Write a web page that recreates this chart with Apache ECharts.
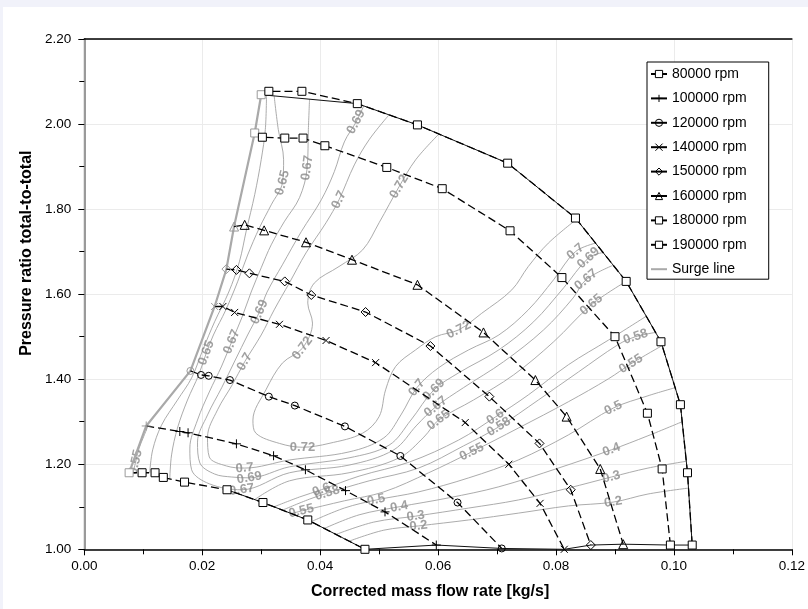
<!DOCTYPE html>
<html><head><meta charset="utf-8">
<script src="https://cdn.jsdelivr.net/npm/echarts@6/dist/echarts.min.js"></script>
<style>
html,body{margin:0;padding:0;background:#f1f2fa;width:808px;height:609px;overflow:hidden}
#c{position:absolute;left:3px;top:7px;width:805px;height:602px;background:#fff}
</style></head><body><div id="c"></div>
<script>
// ---------- tick labels ----------
const xTickLabels = ['0.00','0.02','0.04','0.06','0.08','0.10','0.12'];
const yTickLabels = ['1.00','1.20','1.40','1.60','1.80','2.00','2.20'];

// ---------- speed lines [mass flow, pressure ratio] ----------
const speedNames = ['80000 rpm','100000 rpm','120000 rpm','140000 rpm','150000 rpm','160000 rpm','180000 rpm','190000 rpm'];
const speed80  = [[0.0076,1.180],[0.0098,1.180],[0.0120,1.180],[0.0134,1.169],[0.0170,1.158],[0.0242,1.140],[0.0303,1.110],[0.0379,1.069],[0.0476,1.000]];
const speed100 = [[0.0105,1.290],[0.0162,1.277],[0.0176,1.274],[0.0258,1.248],[0.0321,1.220],[0.0375,1.187],[0.0443,1.138],[0.0510,1.088],[0.0597,1.010]];
const speed120 = [[0.0180,1.4195],[0.0198,1.410],[0.0211,1.408],[0.0247,1.398],[0.0313,1.359],[0.0357,1.338],[0.0442,1.289],[0.0536,1.2195],[0.0633,1.110],[0.0708,1.002]];
const speed140 = [[0.0221,1.571],[0.0235,1.571],[0.0255,1.557],[0.0331,1.529],[0.0410,1.491],[0.0494,1.439],[0.0646,1.298],[0.0720,1.200],[0.0773,1.108],[0.0814,1.000]];
const speed150 = [[0.0241,1.659],[0.0258,1.657],[0.0280,1.649],[0.0340,1.630],[0.0385,1.598],[0.0477,1.558],[0.0587,1.478],[0.0687,1.359],[0.0772,1.249],[0.0825,1.140],[0.0859,1.010]];
const speed160 = [[0.0254,1.759],[0.0272,1.763],[0.0305,1.750],[0.0376,1.722],[0.0454,1.681],[0.0565,1.622],[0.0677,1.510],[0.0765,1.398],[0.0818,1.312],[0.0875,1.189],[0.0914,1.012]];
const speed180 = [[0.0289,1.979],[0.0302,1.969],[0.0340,1.967],[0.0371,1.967],[0.0408,1.949],[0.0513,1.898],[0.0607,1.848],[0.0722,1.749],[0.0810,1.639],[0.0900,1.500],[0.0955,1.320],[0.0980,1.189],[0.0994,1.010]];
const speed190 = [[0.0300,2.069],[0.0313,2.077],[0.0369,2.077],[0.0463,2.048],[0.0565,1.998],[0.0718,1.908],[0.0833,1.779],[0.0919,1.630],[0.0978,1.488],[0.1011,1.340],[0.1023,1.180],[0.1031,1.010]];
const surgeLine = [[0.0076,1.180],[0.0105,1.290],[0.0180,1.4195],[0.0221,1.571],[0.0241,1.659],[0.0254,1.759],[0.0289,1.979],[0.0300,2.069]];
const chokeLine = [[0.0476,1.000],[0.0597,1.010],[0.0708,1.002],[0.0814,1.000],[0.0859,1.010],[0.0914,1.012],[0.0994,1.010],[0.1031,1.010]];

// ---------- efficiency contours ----------
const c072  = [[0.0601,1.976],[0.0562,1.916],[0.0534,1.853],[0.0500,1.768],[0.0472,1.704],[0.0432,1.665],[0.0390,1.626],[0.0379,1.579],[0.0387,1.532],[0.0370,1.473],[0.0336,1.438],[0.0308,1.375],[0.0286,1.304],[0.0291,1.273],[0.0331,1.249],[0.0370,1.240],[0.0415,1.249],[0.0472,1.273],[0.0500,1.312],[0.0511,1.375],[0.0528,1.430],[0.0562,1.469],[0.0596,1.500],[0.0635,1.516],[0.0674,1.555],[0.0725,1.610],[0.0753,1.665],[0.0787,1.720],[0.0834,1.775]];
const c070  = [[0.0517,2.022],[0.0483,1.963],[0.0458,1.904],[0.0432,1.822],[0.0410,1.768],[0.0376,1.697],[0.0348,1.627],[0.0322,1.563],[0.0300,1.504],[0.0272,1.441],[0.0251,1.387],[0.0226,1.328],[0.0209,1.264],[0.0212,1.217],[0.0241,1.196],[0.0272,1.191],[0.0348,1.210],[0.0449,1.229],[0.0508,1.262],[0.0537,1.316],[0.0564,1.380],[0.0601,1.427],[0.0652,1.469],[0.0703,1.504],[0.0753,1.563],[0.0796,1.634],[0.0833,1.700],[0.0867,1.720]];
const c069  = [[0.0474,2.043],[0.0461,2.005],[0.0441,1.958],[0.0424,1.888],[0.0402,1.822],[0.0368,1.747],[0.0336,1.669],[0.0310,1.605],[0.0297,1.558],[0.0277,1.504],[0.0256,1.445],[0.0233,1.380],[0.0209,1.316],[0.0192,1.252],[0.0196,1.203],[0.0221,1.177],[0.0250,1.170],[0.0280,1.168],[0.0348,1.194],[0.0449,1.215],[0.0517,1.245],[0.0554,1.304],[0.0593,1.375],[0.0635,1.415],[0.0703,1.469],[0.0762,1.535],[0.0813,1.615],[0.0855,1.685],[0.0880,1.698]];
const c067  = [[0.0382,2.058],[0.0380,1.987],[0.0378,1.897],[0.0365,1.827],[0.0339,1.770],[0.0317,1.716],[0.0300,1.662],[0.0283,1.605],[0.0267,1.544],[0.0250,1.488],[0.0233,1.431],[0.0212,1.370],[0.0192,1.304],[0.0179,1.238],[0.0182,1.187],[0.0212,1.154],[0.0267,1.140],[0.0348,1.180],[0.0449,1.198],[0.0525,1.234],[0.0564,1.292],[0.0596,1.335],[0.0643,1.380],[0.0711,1.441],[0.0779,1.516],[0.0829,1.591],[0.0851,1.634],[0.0897,1.668]];
const c065a = [[0.0322,2.066],[0.0329,1.987],[0.0338,1.916],[0.0336,1.862],[0.0317,1.810],[0.0297,1.756],[0.0277,1.692],[0.0260,1.629],[0.0240,1.563],[0.0219,1.504],[0.0207,1.462],[0.0194,1.410],[0.0175,1.351],[0.0158,1.285],[0.0148,1.222],[0.0145,1.166]];
const c065b = [[0.0289,1.117],[0.0348,1.161],[0.0449,1.180],[0.0534,1.215],[0.0576,1.264],[0.0601,1.304],[0.0660,1.351],[0.0728,1.410],[0.0796,1.488],[0.0860,1.575],[0.0919,1.630]];
const c060a = [[0.0309,2.067],[0.0307,1.987],[0.0300,1.916],[0.0289,1.834],[0.0275,1.751],[0.0263,1.676],[0.0245,1.605],[0.0221,1.535],[0.0201,1.469],[0.0182,1.403],[0.0158,1.351],[0.0131,1.292],[0.0116,1.234],[0.0111,1.180]];
const c060b = [[0.0322,1.100],[0.0365,1.123],[0.0402,1.140],[0.0466,1.172],[0.0551,1.205],[0.0635,1.257],[0.0697,1.311],[0.0753,1.363],[0.0821,1.434],[0.0889,1.492],[0.0953,1.548]];
const c058  = [[0.0336,1.092],[0.0382,1.118],[0.0412,1.132],[0.0483,1.161],[0.0567,1.191],[0.0643,1.243],[0.0703,1.288],[0.0770,1.351],[0.0838,1.417],[0.0905,1.481],[0.0935,1.500],[0.0969,1.510]];
const c055a = [[0.0083,1.180],[0.0087,1.205],[0.0093,1.238],[0.0101,1.266],[0.0108,1.290]];
const c055b = [[0.0351,1.084],[0.0368,1.090],[0.0441,1.114],[0.0508,1.135],[0.0584,1.180],[0.0657,1.229],[0.0736,1.285],[0.0821,1.347],[0.0889,1.401],[0.0927,1.436],[0.0980,1.479]];
const c050  = [[0.0385,1.065],[0.0441,1.097],[0.0495,1.116],[0.0567,1.135],[0.0652,1.168],[0.0736,1.210],[0.0821,1.269],[0.0897,1.332],[0.0956,1.361],[0.1002,1.380]];
const c040  = [[0.0407,1.049],[0.0466,1.081],[0.0534,1.100],[0.0618,1.121],[0.0703,1.147],[0.0804,1.191],[0.0894,1.234],[0.0956,1.267],[0.1014,1.300]];
const c030  = [[0.0427,1.035],[0.0491,1.064],[0.0562,1.078],[0.0652,1.097],[0.0736,1.116],[0.0821,1.144],[0.0894,1.170],[0.0956,1.191],[0.1021,1.207]];
const c020  = [[0.0449,1.019],[0.0508,1.045],[0.0567,1.055],[0.0652,1.069],[0.0736,1.085],[0.0821,1.102],[0.0897,1.111],[0.0956,1.130],[0.1025,1.144]];

const contourLevels = ['0.72','0.7','0.69','0.67','0.65','0.65','0.6','0.6','0.58','0.55','0.55','0.5','0.4','0.3','0.2'];
const contourLines  = [c072,c070,c069,c067,c065a,c065b,c060a,c060b,c058,c055a,c055b,c050,c040,c030,c020];
// which contour point carries a level label
const contourLabelIdx = [[2,9,15,23],[3,9,15,20,26],[1,8,17,22,27],[2,9,16,21,26],[3,10],[5,9],[],[2,6],[2,6,10],[1],[1,5,9],[2,7],[2,6],[2,6],[2,6]];

// ---------- build chart ----------
const FONT = 'Liberation Sans, Arial, Helvetica, sans-serif';
const chart = echarts.init(document.getElementById('c'));

const PLUS = 'path://M0,5L10,5M5,0L5,10';
const CROSS = 'path://M0,0L10,10M10,0L0,10';
const speedDefs = [
  [speed80, 'rect', 8, '#fff'],
  [speed100, PLUS, 9, 'none'],
  [speed120, 'circle', 7, 'none'],
  [speed140, CROSS, 7, 'none'],
  [speed150, 'diamond', 9, 'none'],
  [speed160, 'triangle', 9, 'none'],
  [speed180, 'rect', 8, '#fff'],
  [speed190, 'rect', 8, '#fff']
];

const series = [];
contourLines.forEach((pts, i) => {
  series.push({
    type: 'line', data: pts, smooth: 0.35, symbol: 'none', silent: true, z: 2,
    lineStyle: { color: '#a2a2a2', width: 0.9 }
  });
});
series.push({
  id: 'effLabels', type: 'scatter', data: [], symbolSize: 1, silent: true, z: 3,
  itemStyle: { color: 'rgba(0,0,0,0)' },
  label: { show: true, position: 'inside', formatter: p => p.name, color: '#8a8a8a',
           fontWeight: 'bold', fontSize: 13, fontFamily: FONT }
});
// boundary thin solid lines
const topBoundary = [speed190[0]].concat(speed190.slice(3));
series.push({ type: 'line', data: topBoundary, symbol: 'none', silent: true, z: 4,
  lineStyle: { color: '#111', width: 1 } });
series.push({ type: 'line', data: speed80.slice(5).concat(chokeLine.slice(1)), symbol: 'none', silent: true, z: 4,
  lineStyle: { color: '#111', width: 1 } });

speedDefs.forEach((d, i) => {
  series.push({
    name: speedNames[i], type: 'line', z: 5, silent: true,
    data: d[0].map((p, k) => k === 0 ? { value: p, itemStyle: { borderColor: '#9a9a9a' } } : p),
    symbol: d[1], symbolSize: d[2], showAllSymbol: true,
    lineStyle: { color: '#000', width: 1.3, type: [8, 4] },
    itemStyle: { color: d[3], borderColor: '#000', borderWidth: 1 }
  });
});
series.push({
  name: 'Surge line', type: 'line', data: surgeLine, symbol: 'none', z: 4, silent: true,
  lineStyle: { color: '#a9a9a9', width: 2.2 }, itemStyle: { color: 'none', borderColor: 'none', borderWidth: 0 }
});

const legendItems = speedNames.map((n, i) => ({
  name: n,
  itemStyle: { color: speedDefs[i][3], borderColor: '#000', borderWidth: 1 }
})).concat([{ name: 'Surge line' }]);

const option = {
  animation: false,
  backgroundColor: '#fff',
  textStyle: { fontFamily: FONT },
  grid: { left: 81.3, top: 32, width: 710, height: 510.3 },
  xAxis: [{
    type: 'value', min: 0, max: 0.12, interval: 0.02,
    axisLine: { lineStyle: { color: '#000', width: 1.5 } },
    axisTick: { length: 6, lineStyle: { color: '#000' } },
    minorTick: { show: true, splitNumber: 2, length: 5, lineStyle: { color: '#000' } },
    splitLine: { show: true, lineStyle: { color: '#ebebeb', width: 1 } },
    axisLabel: { formatter: v => xTickLabels[Math.round(v / 0.02)], color: '#000', fontSize: 13.5, margin: 10, fontFamily: FONT },
    name: 'Corrected mass flow rate [kg/s]', nameLocation: 'middle', nameGap: 34,
    nameTextStyle: { fontWeight: 'bold', fontSize: 16, color: '#000', padding: [0, 16, 0, 0], fontFamily: FONT }
  }, {
    type: 'value', position: 'top', min: 0, max: 0.12,
    axisLine: { show: true, lineStyle: { color: '#000', width: 1.5 } },
    axisTick: { show: false }, axisLabel: { show: false }, splitLine: { show: false }
  }],
  yAxis: [{
    type: 'value', min: 1, max: 2.2, interval: 0.2,
    axisLine: { show: true, lineStyle: { color: '#000', width: 1.2 } },
    axisTick: { show: true, length: 6, lineStyle: { color: '#000' } },
    minorTick: { show: true, splitNumber: 2, length: 5, lineStyle: { color: '#000' } },
    splitLine: { show: true, lineStyle: { color: '#ebebeb', width: 1 } },
    axisLabel: { formatter: v => yTickLabels[Math.round((v - 1) / 0.2)], color: '#000', fontSize: 13.5, margin: 13, fontFamily: FONT },
    name: 'Pressure ratio total-to-total', nameLocation: 'middle', nameGap: 50,
    nameTextStyle: { fontWeight: 'bold', fontSize: 16, color: '#000', padding: [0, 0, 0, 82], fontFamily: FONT }
  }, {
    type: 'value', position: 'right', min: 1, max: 2.2,
    axisLine: { show: true, lineStyle: { color: '#9a9a9a', width: 2 } },
    axisTick: { show: false }, axisLabel: { show: false }, splitLine: { show: false }
  }],
  legend: {
    orient: 'vertical', left: 644, top: 55,
    padding: [5, 22, 3, 3], itemGap: 10.4, itemWidth: 16, itemHeight: 9,
    borderColor: '#000', borderWidth: 1, backgroundColor: '#fff',
    textStyle: { fontSize: 14, lineHeight: 14, color: '#000', fontFamily: FONT },
    lineStyle: { type: 'solid' },
    data: legendItems
  },
  series
};
chart.setOption(option);

// contour labels, rotated along the contour using the chart's own scales
const labelData = [];
contourLines.forEach((pts, ci) => {
  contourLabelIdx[ci].forEach(i => {
    const a = chart.convertToPixel({ xAxisIndex: 0, yAxisIndex: 0 }, pts[Math.max(0, i - 1)]);
    const b = chart.convertToPixel({ xAxisIndex: 0, yAxisIndex: 0 }, pts[Math.min(pts.length - 1, i + 1)]);
    let ang = Math.atan2(-(b[1] - a[1]), b[0] - a[0]) * 180 / Math.PI;
    if (ang > 90) ang -= 180;
    if (ang < -90) ang += 180;
    labelData.push({ name: contourLevels[ci], value: pts[i], label: { rotate: ang } });
  });
});
chart.setOption({ series: [{ id: 'effLabels', data: labelData }] });
</script></body></html>
